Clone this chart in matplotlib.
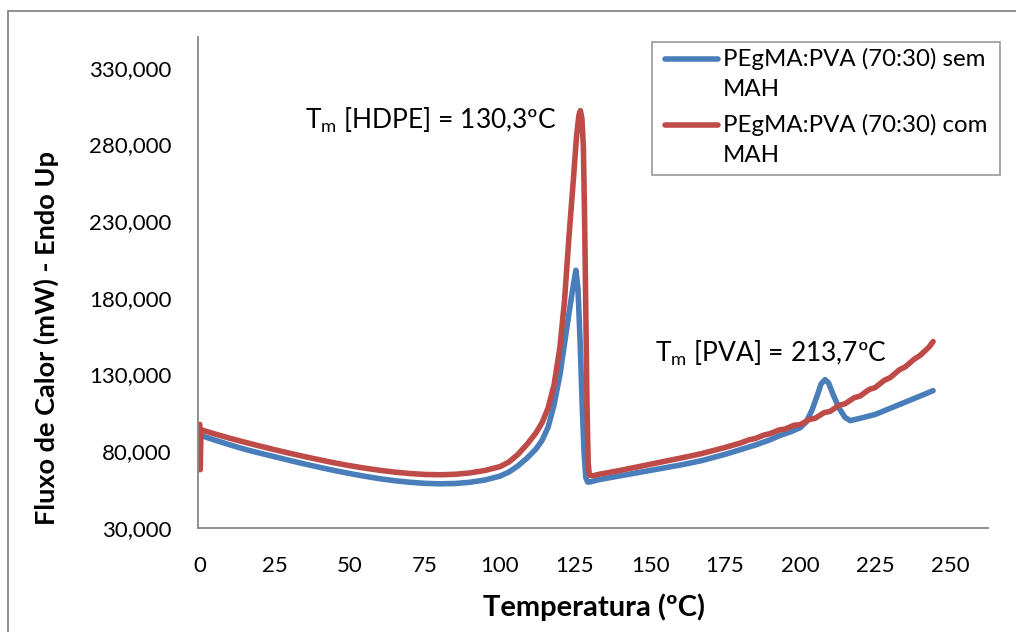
import matplotlib
matplotlib.use('Agg')
import matplotlib.pyplot as plt
from matplotlib.lines import Line2D
from matplotlib.patches import Rectangle
from matplotlib.ticker import FuncFormatter

plt.rcParams['font.family'] = ['Lato', 'DejaVu Sans']
plt.rcParams['mathtext.fontset'] = 'custom'
plt.rcParams['mathtext.rm'] = 'Lato'

# PEgMA:PVA (70:30) sem MAH
temp_sem = [0, 5, 10, 15, 20, 25, 30, 35, 40, 45, 50, 55, 60, 65, 70, 75, 80, 85, 90, 95,
            100, 103, 106, 109, 112, 114, 116, 118, 120, 121.5, 123, 124.5, 125.3,
            126.0, 126.7, 127.4, 128.0, 128.6, 129.2, 130, 133, 140, 150, 160, 167, 175,
            180, 185, 190, 193, 197, 200, 202, 204, 206, 207, 208.3, 209.5, 211, 213,
            215, 216.7, 220, 225, 230, 235, 240, 244.3]
fluxo_sem = [90500, 87300, 84200, 81300, 78800, 76400, 74000, 71700, 69500, 67400, 65500,
             63700, 62100, 60800, 59800, 59100, 58800, 59000, 59800, 61300,
             63800, 66500, 70500, 75500, 81500, 87000, 95500, 110000, 130000, 150000,
             170000, 189000, 198000,
             186000, 152000, 110000, 80000, 63000, 60000, 60000, 61500, 64000, 67500,
             71000, 73800, 78000, 81000, 84000, 87500, 90100, 92800, 95400, 99000,
             107000, 118000, 124000, 126700, 124500, 117000, 108000, 102000, 100000,
             101500, 104000, 108000, 112000, 116000, 119500]

# PEgMA:PVA (70:30) com MAH
temp_com = [0, 0.15, 0.4, 5, 10, 15, 20, 25, 30, 35, 40, 45, 50, 55, 60, 65, 70, 75, 80,
            85, 90, 95, 100, 103, 106, 109, 112, 114, 116, 118, 120, 121.5, 123, 124.5,
            125.5, 126.3, 126.8, 127.3, 127.8, 128.2, 128.6, 129.0, 129.4, 129.8, 131,
            133, 140, 150, 160, 167, 175, 180, 183, 185, 188, 190, 193, 195, 198, 200,
            203, 205, 208, 210, 213, 215, 218, 220, 223, 225, 228, 230, 233, 235, 238,
            240, 243, 244.3]
fluxo_com = [97500, 68000, 94000, 91300, 88500, 85900, 83400, 81000, 78700, 76500, 74400,
             72400, 70600, 69000, 67600, 66400, 65500, 64900, 64700, 65000, 65900, 67500,
             70000, 73000, 78000, 84500, 92000, 98500, 108000, 123000, 148000, 178000,
             220000, 258000, 285000, 299000, 302000, 297000, 278000, 232000, 172000,
             110000, 72000, 64500, 64000, 65000, 67500, 71500, 75500, 78400, 82500,
             85300, 87500, 88300, 90600, 91500, 93900, 94500, 97000, 97300, 100700,
             101500, 105200, 106000, 110000, 111000, 114900, 116000, 120300, 121500,
             126200, 128000, 133000, 135000, 140000, 142500, 148000, 151500]

series_labels = ['PEgMA:PVA (70:30) sem\nMAH', 'PEgMA:PVA (70:30) com\nMAH']
series_colors = ['#4A7EBB', '#BE4B48']
x_ticks = list(range(0, 251, 25))
y_ticks = list(range(30000, 330001, 50000))

W, H = 1016, 632
fig = plt.figure(figsize=(W / 100, H / 100), dpi=100)
ax = fig.add_axes([198 / W, 1 - 528 / H, (988 - 198) / W, (528 - 37) / H])

ax.plot(temp_sem, fluxo_sem, color=series_colors[0], lw=4, solid_capstyle='round',
        solid_joinstyle='round')
ax.plot(temp_com, fluxo_com, color=series_colors[1], lw=4, solid_capstyle='round',
        solid_joinstyle='round')

ax.set_xlim(-0.6, 262.6)
ax.set_ylim(30000, 350000)
ax.set_xticks(x_ticks)
ax.set_yticks(y_ticks)
ax.yaxis.set_major_formatter(FuncFormatter(lambda v, p: '{:,.0f}'.format(v)))
ax.tick_params(length=0, labelsize=16)
ax.tick_params(axis='x', pad=20)
ax.tick_params(axis='y', pad=19)

for s in ['top', 'right']:
    ax.spines[s].set_visible(False)
for s in ['left', 'bottom']:
    ax.spines[s].set_color('#868686')
    ax.spines[s].set_linewidth(1.3)

fig.text(594 / W, 1 - 607 / H, 'Temperatura (ºC)', fontsize=21, fontweight='bold',
         ha='center', va='center')
fig.text(46 / W, 1 - 338 / H, 'Fluxo de Calor (mW) - Endo Up', fontsize=19.5,
         fontweight='bold', ha='center', va='center', rotation=90)

fig.text(305 / W, 1 - 120 / H, r'T$_\mathregular{m}$ [HDPE] = 130,3ºC', fontsize=19,
         ha='left', va='center')
fig.text(655 / W, 1 - 353 / H, r'T$_\mathregular{m}$ [PVA] = 213,7ºC', fontsize=19,
         ha='left', va='center')

# legend drawn by hand so the line sits on the first text row
fig.patches.append(Rectangle((652 / W, 1 - 175 / H), (1000 - 652) / W, (175 - 42) / H,
                             transform=fig.transFigure, fill=False, edgecolor='#A0A0A0',
                             lw=1.3))
for i, (lab, col) in enumerate(zip(series_labels, series_colors)):
    yy = 59 + i * 66
    fig.lines.append(Line2D([665 / W, 718 / W], [1 - yy / H, 1 - yy / H],
                            transform=fig.transFigure, color=col, lw=4,
                            solid_capstyle='round'))
    fig.text(723 / W, 1 - (yy - 11) / H, lab, fontsize=17.3, ha='left', va='top',
             linespacing=1.5)

# outer chart border
fig.patches.append(Rectangle((8 / W, -0.2), 1.3, 1.2 - 11 / H, transform=fig.transFigure,
                             fill=False, edgecolor='#868686', lw=1.3))

fig.savefig('out.png', dpi=100)
